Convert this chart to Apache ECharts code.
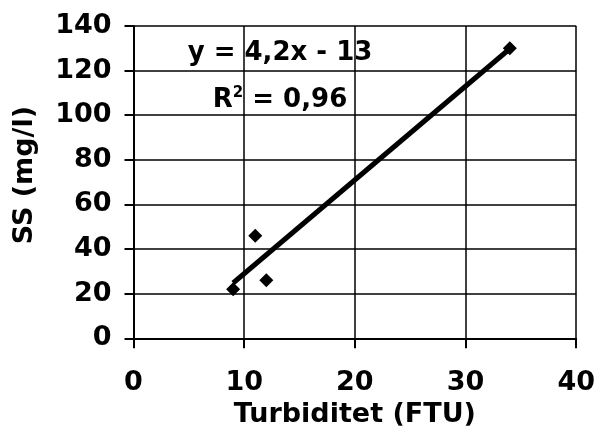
<!DOCTYPE html>
<html>
<head>
<meta charset="utf-8">
<script src="https://cdn.jsdelivr.net/npm/echarts@6/dist/echarts.min.js"></script>
<style>
html,body{margin:0;padding:0;background:#fff;}
#chart{width:598px;height:439px;}
</style>
</head>
<body>
<div id="chart"></div>
<script>
var turbidity = [9, 11, 12, 34];
var ss = [22, 46, 26, 130];
var trendX = [9, 34];
var trendY = [24.8, 129.8];
var xTicks = [0, 10, 20, 30, 40];
var yTicks = [0, 20, 40, 60, 80, 100, 120, 140];
var equationText = 'y = 4,2x - 13';
var r2Text = '0,96';

var FONT = 'DejaVu Sans';
var chart = echarts.init(document.getElementById('chart'));
var pts = turbidity.map(function (x, i) { return [x, ss[i]]; });
var trend = trendX.map(function (x, i) { return [x, trendY[i]]; });

chart.setOption({
  backgroundColor: '#fff',
  animation: false,
  grid: {left: 133.5, right: 19.5, top: 26, bottom: 100.7},
  xAxis: {
    type: 'value', min: xTicks[0], max: xTicks[xTicks.length - 1], interval: 10,
    name: 'Turbiditet (FTU)', nameLocation: 'middle', nameGap: 61,
    nameTextStyle: {fontFamily: FONT, fontWeight: 'bold', fontSize: 27, color: '#000'},
    axisLine: {show: true, lineStyle: {color: '#000', width: 2}},
    axisTick: {show: true, length: 10, lineStyle: {color: '#000', width: 2}},
    axisLabel: {margin: 31, fontFamily: FONT, fontWeight: 'bold', fontSize: 27, color: '#000'},
    splitLine: {show: true, lineStyle: {color: '#000', width: 1.5}}
  },
  yAxis: {
    type: 'value', min: yTicks[0], max: yTicks[yTicks.length - 1], interval: 20,
    name: 'SS (mg/l)', nameLocation: 'middle', nameGap: 95,
    nameTextStyle: {fontFamily: FONT, fontWeight: 'bold', fontSize: 27, color: '#000', padding: [0, 0, 0, 14]},
    axisLine: {show: true, lineStyle: {color: '#000', width: 2}},
    axisTick: {show: true, length: 9, lineStyle: {color: '#000', width: 2}},
    axisLabel: {margin: 22, fontFamily: FONT, fontWeight: 'bold', fontSize: 27, color: '#000'},
    splitLine: {show: true, lineStyle: {color: '#000', width: 1.5}}
  },
  series: [
    {
      type: 'line', data: trend, showSymbol: false, symbol: 'none',
      lineStyle: {color: '#000', width: 5}, z: 3, silent: true
    },
    {
      type: 'scatter', data: pts, symbol: 'diamond', symbolSize: 14,
      itemStyle: {color: '#000', opacity: 1}, z: 4
    }
  ],
  graphic: [
    {
      type: 'text', x: 280, y: 53, z: 10,
      style: {text: equationText, fontFamily: FONT, fontWeight: 'bold', fontSize: 26,
        fill: '#000', align: 'center', verticalAlign: 'middle'}
    },
    {
      type: 'text', x: 280, y: 100, z: 10,
      style: {
        text: '{r|R}{s|2}{r| = ' + r2Text + '}',
        align: 'center', verticalAlign: 'middle',
        rich: {
          r: {fontFamily: FONT, fontWeight: 'bold', fontSize: 26, fill: '#000', color: '#000'},
          s: {fontFamily: FONT, fontWeight: 'bold', fontSize: 15, fill: '#000', color: '#000', verticalAlign: 'top', padding: [0, 0, 14, 0]}
        }
      }
    }
  ]
});
</script>
</body>
</html>
